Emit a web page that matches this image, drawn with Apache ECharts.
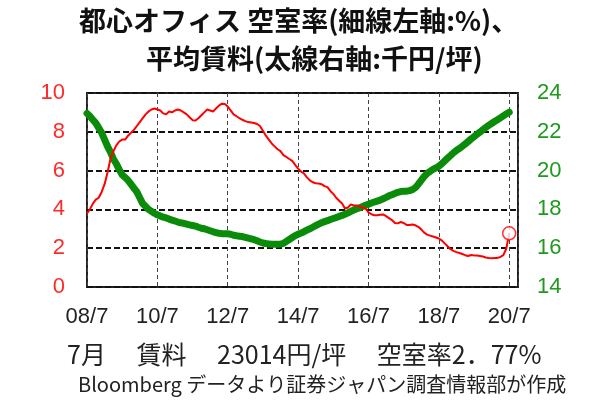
<!DOCTYPE html>
<html>
<head>
<meta charset="utf-8">
<script src="https://cdn.jsdelivr.net/npm/echarts@6/dist/echarts.min.js"></script>
<style>
  html, body { margin: 0; padding: 0; background: #fff; }
  #chart { width: 599px; height: 403px; }
</style>
</head>
<body>
<div id="chart"></div>
<script>
// months counted from 2008/07 (index 0) to 2020/07 (index 144)
const xTickLabels = ["08/7", "10/7", "12/7", "14/7", "16/7", "18/7", "20/7"];
const monthsPerTick = 24;
const lastAxisMonth = 147;

// 空室率 (%), left axis, thin red line
const vacancy = [
  3.8, 4.0, 4.3, 4.5, 4.6, 4.9, 5.3, 5.9, 6.6, 7.0, 7.3, 7.5,
  7.6, 7.6, 7.8, 7.95, 8.1, 8.3, 8.5, 8.7, 8.9, 9.05, 9.15, 9.2,
  9.15, 9.1, 8.95, 8.9, 9.05, 9.0, 9.1, 9.15, 9.1, 9.0, 8.9, 8.75,
  8.6, 8.58, 8.7, 8.85, 9.0, 9.15, 9.1, 9.05, 9.2, 9.35, 9.45, 9.43,
  9.3, 9.1, 8.9, 8.8, 8.7, 8.62, 8.55, 8.5, 8.48, 8.45, 8.4, 8.3,
  8.05, 7.8, 7.6, 7.4, 7.25, 7.1, 7.0, 6.8, 6.7, 6.6, 6.5, 6.3,
  6.1, 5.95, 5.85, 5.65, 5.5, 5.4, 5.35, 5.33, 5.3, 5.2, 5.15, 4.95,
  4.8, 4.6, 4.45, 4.3, 4.05, 4.1, 4.25, 4.2, 4.2, 4.15, 4.1, 4.05,
  3.85, 3.75, 3.7, 3.7, 3.72, 3.74, 3.65, 3.55, 3.45, 3.3, 3.28, 3.35,
  3.3, 3.2, 3.2, 3.22, 3.18, 3.1, 2.97, 2.8, 2.7, 2.65, 2.6, 2.55,
  2.5, 2.4, 2.25, 2.1, 1.95, 1.86, 1.8, 1.75, 1.7, 1.64, 1.6, 1.65,
  1.63, 1.62, 1.6, 1.57, 1.52, 1.49, 1.48, 1.49, 1.5, 1.55, 1.64, 1.97,
  2.77
];

// 平均賃料 (千円/坪), right axis, thick green line
const rent = [
  22.95, 22.8, 22.62, 22.45, 22.2, 21.95, 21.6, 21.25, 20.95, 20.6, 20.35, 20.05,
  19.78, 19.65, 19.5, 19.3, 19.1, 18.9, 18.6, 18.3, 18.15, 18.0, 17.9, 17.8,
  17.72, 17.66, 17.6, 17.56, 17.5, 17.45, 17.4, 17.35, 17.31, 17.28, 17.24, 17.2,
  17.17, 17.14, 17.08, 17.03, 17.0, 16.95, 16.9, 16.85, 16.8, 16.77, 16.75, 16.74,
  16.74, 16.72, 16.67, 16.64, 16.62, 16.6, 16.56, 16.52, 16.48, 16.44, 16.38, 16.32,
  16.27, 16.24, 16.22, 16.2, 16.2, 16.2, 16.21, 16.25, 16.35, 16.45, 16.55, 16.65,
  16.72, 16.78, 16.85, 16.93, 17.0, 17.08, 17.16, 17.24, 17.31, 17.37, 17.42, 17.48,
  17.53, 17.58, 17.64, 17.69, 17.75, 17.82, 17.9, 17.97, 18.03, 18.09, 18.15, 18.21,
  18.27, 18.33, 18.38, 18.43, 18.48, 18.55, 18.62, 18.7, 18.76, 18.82, 18.88, 18.92,
  18.93, 18.94, 18.97, 19.02, 19.12, 19.3, 19.5, 19.7, 19.85, 19.96, 20.06, 20.14,
  20.23, 20.35, 20.5, 20.64, 20.78, 20.92, 21.04, 21.14, 21.25, 21.37, 21.5, 21.63,
  21.75, 21.87, 21.98, 22.1, 22.22, 22.33, 22.43, 22.53, 22.62, 22.72, 22.82, 22.92,
  23.01
];

const titleLines = ["都心オフィス 空室率(細線左軸:%)、", "平均賃料(太線右軸:千円/坪)"];
const noteLines = ["7月　 賃料　 23014円/坪　 空室率2．77%", "Bloomberg データより証券ジャパン調査情報部が作成"];

const red = "#ff0000";
const green = "#0a8c0a";
const latin = '"Liberation Sans", Arial, sans-serif';
const jp = '"Noto Sans CJK JP", sans-serif';

const chart = echarts.init(document.getElementById("chart"), null, { renderer: "canvas" });

const lastIndex = vacancy.length - 1;

chart.setOption({
  backgroundColor: "#fff",
  animation: false,
  title: [
    { text: titleLines[0], left: 79, top: 7, padding: 0,
      textStyle: { fontFamily: jp, fontSize: 27, fontWeight: "bold", color: "#111" } },
    { text: titleLines[1], left: 146, top: 45, padding: 0,
      textStyle: { fontFamily: jp, fontSize: 27, fontWeight: "bold", color: "#111" } },
    { text: noteLines[0], left: 67, top: 342, padding: 0,
      textStyle: { fontFamily: jp, fontSize: 25, fontWeight: "normal", color: "#222" } },
    { text: noteLines[1], left: 78, top: 374, padding: 0,
      textStyle: { fontFamily: jp, fontSize: 20, fontWeight: "normal", color: "#222" } }
  ],
  grid: {
    left: 87, right: 81, top: 93, bottom: 116,
    show: true, borderColor: "#222", borderWidth: 2, backgroundColor: "transparent"
  },
  xAxis: {
    type: "value",
    min: 0,
    max: lastAxisMonth,
    interval: monthsPerTick,
    axisLine: { show: false },
    axisTick: { show: false },
    axisLabel: {
      showMaxLabel: false,
      margin: 19,
      color: "#222",
      fontFamily: latin,
      fontSize: 22,
      formatter: v => (v % monthsPerTick === 0 ? xTickLabels[v / monthsPerTick] || "" : "")
    },
    splitLine: { show: true, lineStyle: { color: "#444", width: 1, type: [4, 3] } }
  },
  yAxis: [
    {
      type: "value",
      min: 0, max: 10, interval: 2,
      axisLine: { show: false },
      axisTick: { show: false },
      axisLabel: { margin: 22, color: "#ff2a2a", fontFamily: latin, fontSize: 22 },
      splitLine: { show: true, lineStyle: { color: "#111", width: 2, type: [6, 3] } }
    },
    {
      type: "value",
      min: 14, max: 24, interval: 2,
      position: "right",
      axisLine: { show: false },
      axisTick: { show: false },
      axisLabel: { margin: 19, color: "#1f9a1f", fontFamily: latin, fontSize: 22 },
      splitLine: { show: false }
    }
  ],
  series: [
    {
      name: "平均賃料",
      type: "line",
      yAxisIndex: 1,
      data: rent.map((v, i) => [i, v]),
      showSymbol: false,
      lineStyle: { color: green, width: 7, cap: "round", join: "round" },
      z: 2
    },
    {
      name: "空室率",
      type: "line",
      yAxisIndex: 0,
      data: vacancy.map((v, i) => [i, v]),
      showSymbol: false,
      lineStyle: { color: red, width: 2 },
      z: 3
    },
    {
      name: "最新",
      type: "scatter",
      yAxisIndex: 0,
      data: [[lastIndex, vacancy[lastIndex]]],
      symbol: "circle",
      symbolSize: 13,
      itemStyle: { color: "#fff", borderColor: red, borderWidth: 1.5 },
      z: 4
    }
  ]
});
</script>
</body>
</html>
